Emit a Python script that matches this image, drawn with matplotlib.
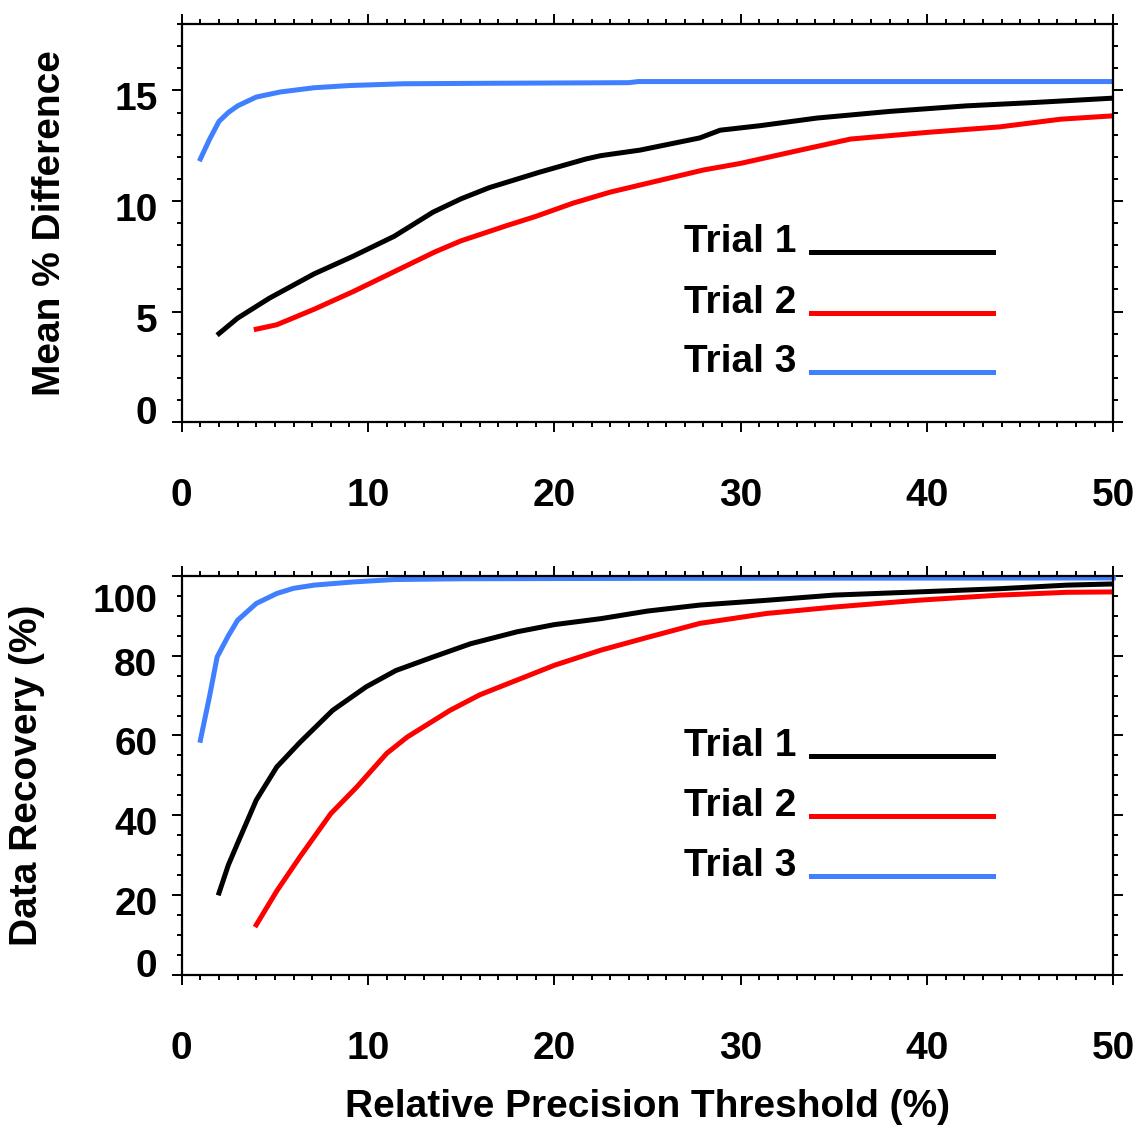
import numpy as np
import matplotlib.pyplot as plt
from matplotlib.ticker import MultipleLocator
from matplotlib.transforms import ScaledTranslation

plt.rcParams['font.family'] = ['Liberation Sans', 'DejaVu Sans']
plt.rcParams['font.weight'] = 'bold'
plt.rcParams['axes.labelweight'] = 'bold'

# ---- data ----
# top panel: mean % difference vs relative precision threshold
t1_x = [2.0, 3.0, 4.7, 7.1, 9.2, 11.4, 13.5, 15.0, 16.5, 19.2, 21.7, 22.5, 24.6, 27.8, 28.9, 31.0, 34.1, 38.0, 42.1, 45.7, 50.0]
t1_diff = [4.0, 4.7, 5.6, 6.7, 7.5, 8.4, 9.5, 10.1, 10.6, 11.3, 11.9, 12.05, 12.3, 12.85, 13.2, 13.4, 13.75, 14.05, 14.3, 14.45, 14.65]
t2_x = [4.0, 5.1, 7.1, 9.2, 11.4, 13.6, 15.0, 17.5, 19.0, 21.0, 23.0, 25.5, 28.0, 30.0, 33.2, 35.9, 40.0, 43.9, 47.2, 50.0]
t2_diff = [4.2, 4.4, 5.1, 5.9, 6.8, 7.7, 8.2, 8.9, 9.3, 9.9, 10.4, 10.9, 11.4, 11.7, 12.3, 12.8, 13.1, 13.35, 13.7, 13.85]
t3_x = [1.0, 1.5, 2.0, 2.5, 3.0, 4.0, 5.3, 7.1, 9.0, 11.9, 16.0, 24.0, 24.5, 50.0]
t3_diff = [11.9, 12.8, 13.6, 14.0, 14.3, 14.7, 14.93, 15.12, 15.22, 15.3, 15.32, 15.35, 15.4, 15.4]

# bottom panel: data recovery (%)
t1_rec_x = [2.0, 2.5, 3.0, 4.0, 5.1, 6.35, 8.1, 9.9, 11.5, 13.5, 15.5, 18.0, 20.0, 22.5, 25.0, 27.8, 31.4, 35.0, 39.5, 43.9, 47.5, 50.0]
t1_rec = [20.5, 27.5, 33.0, 43.8, 52.1, 58.3, 66.3, 72.2, 76.3, 79.7, 83.0, 86.0, 87.8, 89.3, 91.2, 92.7, 93.9, 95.2, 96.0, 96.8, 97.7, 98.0]
t2_rec_x = [4.0, 5.1, 6.35, 8.0, 9.4, 11.0, 12.1, 14.4, 16.0, 18.0, 20.0, 22.5, 25.0, 27.8, 31.4, 35.0, 39.5, 43.9, 47.5, 50.0]
t2_rec = [12.5, 21.0, 29.6, 40.4, 47.1, 55.5, 59.6, 66.3, 70.2, 73.9, 77.6, 81.4, 84.6, 88.1, 90.6, 92.2, 93.9, 95.2, 95.9, 96.0]
t3_rec_x = [1.0, 1.5, 1.9, 2.5, 3.0, 4.0, 5.1, 6.0, 7.1, 9.2, 11.4, 15.1, 25.0, 50.0]
t3_rec = [58.8, 70.0, 79.7, 85.0, 88.9, 93.1, 95.6, 96.9, 97.7, 98.5, 99.1, 99.3, 99.4, 99.5]

labels = ['Trial 1', 'Trial 2', 'Trial 3']
colors = ['black', '#ff0000', '#4080ff']

fig = plt.figure(figsize=(11.38, 11.30), dpi=100)
ax1 = fig.add_axes([0.1597, 0.6265, 0.8186, 0.3522])
ax2 = fig.add_axes([0.1597, 0.1374, 0.8186, 0.3529])

ax1.plot(t1_x, t1_diff, color=colors[0], lw=3.6)
ax1.plot(t2_x, t2_diff, color=colors[1], lw=3.6)
ax1.plot(t3_x, t3_diff, color=colors[2], lw=3.6)

ax2.plot(t1_rec_x, t1_rec, color=colors[0], lw=3.6)
ax2.plot(t2_rec_x, t2_rec, color=colors[1], lw=3.6)
ax2.plot(t3_rec_x, t3_rec, color=colors[2], lw=3.6, clip_on=False)

ax1.set_ylim(0, 18)
ax1.yaxis.set_major_locator(MultipleLocator(5))
ax1.yaxis.set_minor_locator(MultipleLocator(1))
ax2.set_ylim(0, 100)
ax2.yaxis.set_major_locator(MultipleLocator(20))
ax2.yaxis.set_minor_locator(MultipleLocator(5))

for ax in (ax1, ax2):
    ax.set_xlim(0, 50)
    ax.xaxis.set_major_locator(MultipleLocator(10))
    ax.xaxis.set_minor_locator(MultipleLocator(1))
    for s in ax.spines.values():
        s.set_linewidth(1.6)
    ax.tick_params(which='both', direction='out', top=True, right=True, width=1.4, labelsize=28)
    ax.tick_params(which='major', length=7.5)
    ax.tick_params(which='minor', length=3.8)
    ax.tick_params(axis='x', pad=33)
    ax.tick_params(axis='y', pad=10)

ax1.set_ylabel('Mean % Difference', fontsize=28)
ax2.set_ylabel('Data Recovery (%)', fontsize=28)
ax2.set_xlabel('Relative Precision Threshold (%)', fontsize=28, labelpad=16)
ax1.yaxis.set_label_coords(-0.122, 0.5)
ax2.yaxis.set_label_coords(-0.147, 0.5)

# y tick labels sit a little off their ticks in the original
fig.canvas.draw()
shifts = {'0': 12, '100': -22}
for ax in (ax1, ax2):
    for lab in ax.get_yticklabels():
        dy = shifts.get(lab.get_text(), -6)
        lab.set_transform(lab.get_transform() + ScaledTranslation(0, dy / 100, fig.dpi_scale_trans))

# hand-drawn legends
leg_y = {ax1: [0.428, 0.275, 0.125], ax2: [0.549, 0.398, 0.247]}
for ax in (ax1, ax2):
    for lab, col, yy in zip(labels, colors, leg_y[ax]):
        ax.text(0.660, yy, lab, transform=ax.transAxes, ha='right', va='baseline', fontsize=28)
        ax.plot([0.676, 0.871], [yy, yy], transform=ax.transAxes, color=col, lw=3.6)

fig.savefig('out.png', dpi=100)
